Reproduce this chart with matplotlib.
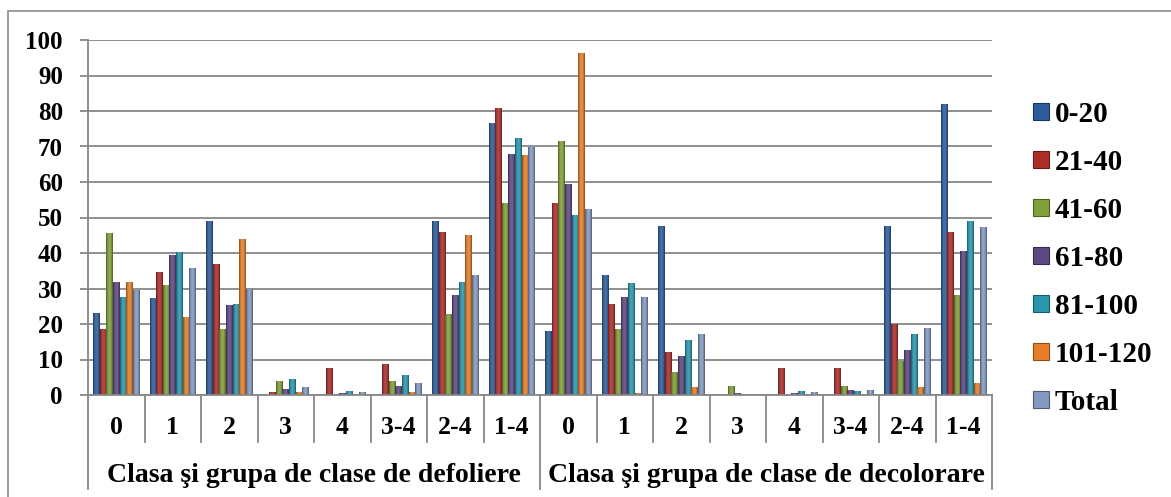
import numpy as np
import matplotlib
matplotlib.use("Agg")
import matplotlib.pyplot as plt
from matplotlib.patches import Rectangle, Patch
from matplotlib.colors import to_rgb

# ---------------- data ----------------
categories = ["0", "1", "2", "3", "4", "3-4", "2-4", "1-4",
              "0", "1", "2", "3", "4", "3-4", "2-4", "1-4"]
group_labels = ["Clasa şi grupa de clase de defoliere",
                "Clasa şi grupa de clase de decolorare"]
series_names = ["0-20", "21-40", "41-60", "61-80", "81-100", "101-120", "Total"]

s_0_20 = [23.0, 27.3, 48.9, 0.0, 0.0, 0.0, 49.1, 76.7,
          17.9, 33.7, 47.7, 0.0, 0.0, 0.0, 47.7, 81.9]
s_21_40 = [18.7, 34.7, 36.9, 0.8, 7.5, 8.7, 46.0, 80.8,
           54.0, 25.5, 12.0, 0.0, 7.5, 7.5, 20.0, 46.0]
s_41_60 = [45.7, 31.0, 18.5, 3.9, 0.0, 4.0, 22.7, 54.1,
           71.5, 18.5, 6.6, 2.4, 0.0, 2.4, 9.5, 28.2]
s_61_80 = [31.7, 39.5, 25.3, 1.6, 0.5, 2.4, 28.2, 67.8,
           59.3, 27.5, 10.9, 0.5, 0.5, 1.3, 12.6, 40.7]
s_81_100 = [27.5, 40.4, 25.6, 4.4, 1.0, 5.6, 31.7, 72.3,
            50.6, 31.5, 15.6, 0.0, 1.0, 1.0, 17.3, 49.1]
s_101_120 = [31.7, 22.1, 44.0, 0.8, 0.0, 0.8, 45.2, 67.7,
             96.2, 0.7, 2.2, 0.0, 0.0, 0.0, 2.2, 3.3]
s_total = [29.6, 35.7, 30.0, 2.2, 0.8, 3.3, 33.7, 70.0,
           52.4, 27.5, 17.3, 0.3, 0.8, 1.3, 19.0, 47.2]

series = [s_0_20, s_21_40, s_41_60, s_61_80, s_81_100, s_101_120, s_total]
colors = ["#2E5C9C", "#AC2E2B", "#80A038", "#5E4883", "#2A96AC", "#E67F28", "#8399C2"]

yticks = list(range(0, 101, 10))

# ---------------- figure ----------------
W, H = 1171, 497
fig = plt.figure(figsize=(W / 100, H / 100), dpi=100)
FONT = ["Liberation Serif", "DejaVu Serif"]
plt.rcParams["font.family"] = FONT
plt.rcParams["font.weight"] = "bold"

ax_l, ax_r, ax_t, ax_b = 88, 992, 40, 395
ax = fig.add_axes([ax_l / W, 1 - ax_b / H, (ax_r - ax_l) / W, (ax_b - ax_t) / H])

grid_c = "#878787"
n = len(categories)
x = np.arange(n)
k = len(series)
bw = 0.1163

def shade(c, t):
    c = np.array(to_rgb(c))
    dark = c * 0.55
    light = c + (1 - c) * 0.12
    s = np.sin(np.pi * t) ** 0.7
    return dark * (1 - s) + light * s

for i, (vals, col) in enumerate(zip(series, colors)):
    offs = (i - (k - 1) / 2) * bw
    bars = ax.bar(x + offs, vals, width=bw, color=col, linewidth=0, zorder=3)
    for b in bars:
        h = b.get_height()
        if h <= 0:
            continue
        t = np.linspace(0, 1, 24)
        grad = np.array([shade(col, tt) for tt in t])[None, :, :]
        im = ax.imshow(grad, extent=(b.get_x(), b.get_x() + b.get_width(), 0, h),
                       aspect="auto", zorder=3.5, interpolation="bilinear")
        im.set_clip_path(b)

ax.set_xlim(-0.5, n - 0.5)
ax.set_ylim(0, 100)
ax.set_yticks(yticks)
ax.set_yticklabels([str(v) for v in yticks], fontsize=18, fontweight="bold")
ax.yaxis.grid(True, color=grid_c, linewidth=1.3, zorder=0)
ax.set_axisbelow(True)
ax.tick_params(axis="y", length=6, width=1.3, color=grid_c, pad=12)
ax.tick_params(axis="x", bottom=False, labelbottom=False)
for sp in ["top", "right", "bottom"]:
    ax.spines[sp].set_visible(False)
ax.spines["left"].set_color(grid_c)
ax.spines["left"].set_linewidth(1.3)

# category axis (two rows)
trans = ax.get_xaxis_transform()
hpx = ax_b - ax_t
y_row1 = -(442 - ax_b) / hpx
y_row2 = -(489 - ax_b) / hpx
ax.plot([-0.5, n - 0.5], [0, 0], transform=trans, color=grid_c, lw=1.3, clip_on=False, zorder=4)
for j in range(n + 1):
    bottom = y_row2 if j in (0, n // 2, n) else y_row1
    ax.plot([j - 0.5, j - 0.5], [0, bottom], transform=trans, color=grid_c,
            lw=1.3, clip_on=False, zorder=4)
for j, lab in enumerate(categories):
    ax.text(j, -(427 - ax_b) / hpx, lab, transform=trans, ha="center", va="center",
            fontsize=18.5, fontweight="bold")
half = n // 2
for g, lab in enumerate(group_labels):
    cx = g * half + (half - 1) / 2
    ax.text(cx, -(475 - ax_b) / hpx, lab, transform=trans, ha="center", va="center",
            fontsize=20, fontweight="bold")

# outer frame
fig.patches.append(Rectangle((8 / W, -0.1), 1.2, 1 - 11 / H + 0.1, transform=fig.transFigure,
                             fill=False, edgecolor="#8C8C8C", linewidth=1.2))

# legend
handles = [Patch(facecolor=c, edgecolor=np.array(to_rgb(c)) * 0.6, linewidth=0.8) for c in colors]
leg = fig.legend(handles, series_names, loc="upper left",
                 bbox_to_anchor=(1033 / W, 1 - 101 / H), frameon=False,
                 prop={"family": FONT, "weight": "bold", "size": 21},
                 handlelength=0.55, handleheight=0.55, handletextpad=0.2,
                 labelspacing=0.72, borderpad=0, borderaxespad=0)

fig.savefig("out.png", dpi=100)
